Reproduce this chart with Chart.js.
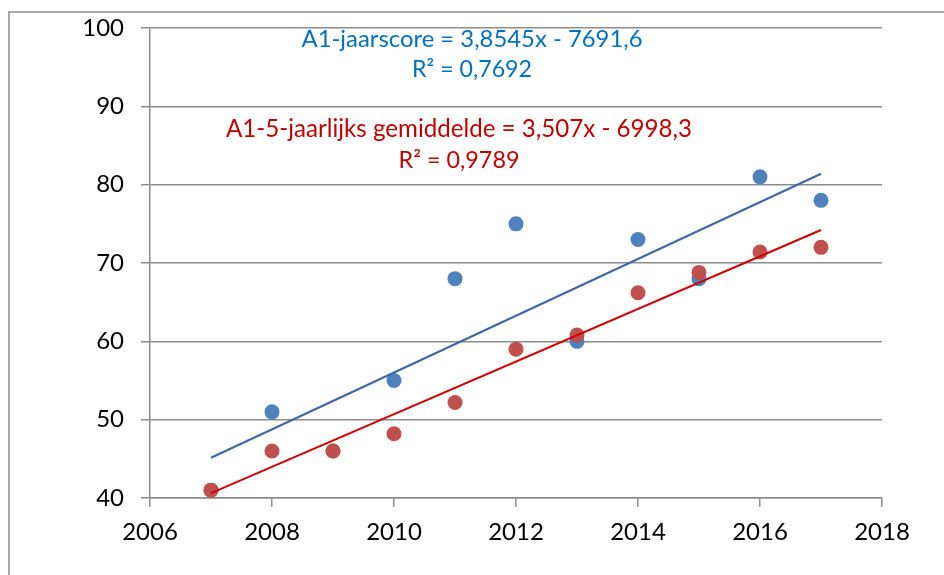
<!DOCTYPE html>
<html>
<head>
<meta charset="utf-8">
<script src="https://cdn.jsdelivr.net/npm/chart.js@4.4.1/dist/chart.umd.min.js"></script>
<style>
html,body{margin:0;padding:0;background:#fff;}
#wrap{width:944px;height:575px;position:relative;}
</style>
</head>
<body>
<div id="wrap"><canvas id="c" width="944" height="575"></canvas></div>
<script>
// ---- data ----
const years = [2007, 2008, 2009, 2010, 2011, 2012, 2013, 2014, 2015, 2016, 2017];
const jaarscore = [41, 51, 46, 55, 68, 75, 60, 73, 68, 81, 78];
const vijfjaarGemiddelde = [41, 46, 46, 48.2, 52.2, 59, 60.8, 66.2, 68.8, 71.4, 72];
const xTicks = [2006, 2008, 2010, 2012, 2014, 2016, 2018];
const yTicks = [40, 50, 60, 70, 80, 90, 100];
const blueLabel = ["A1-jaarscore = 3,8545x - 7691,6", "R² = 0,7692"];
const redLabel = ["A1-5-jaarlijks gemiddelde = 3,507x - 6998,3", "R² = 0,9789"];

function pts(xs, ys){ return xs.map((x,i)=>({x:x, y:ys[i]})); }
function trend(xs, ys){
  const n = xs.length;
  const mx = xs.reduce((a,b)=>a+b,0)/n, my = ys.reduce((a,b)=>a+b,0)/n;
  let sxy=0, sxx=0;
  for(let i=0;i<n;i++){ sxy += (xs[i]-mx)*(ys[i]-my); sxx += (xs[i]-mx)*(xs[i]-mx); }
  const b = sxy/sxx, a = my - b*mx;
  const x0 = xs[0], x1 = xs[n-1];
  return [{x:x0, y:a+b*x0}, {x:x1, y:a+b*x1}];
}

const FONT = "Lato, 'Open Sans', sans-serif";
const GRID = '#8c8c8c';

const framePlugin = {
  id: 'frame',
  beforeDraw(chart){
    const ctx = chart.ctx;
    ctx.save();
    ctx.fillStyle = '#fff';
    ctx.fillRect(0,0,chart.width,chart.height);
    ctx.strokeStyle = '#8c8c8c';
    ctx.lineWidth = 1.5;
    ctx.strokeRect(9, 12, 1000, 700);
    ctx.restore();
  }
};

function drawLines(ctx, lines, color, cx, cys, widths){
  ctx.fillStyle = color;
  ctx.textAlign = 'center';
  ctx.textBaseline = 'middle';
  lines.forEach((t,i)=>{
    ctx.font = '20px ' + FONT;
    const w = ctx.measureText(t).width;
    const size = 20 * widths[i] / w;
    ctx.font = size.toFixed(2) + 'px ' + FONT;
    ctx.fillText(t, cx[i], cys[i]);
  });
}

const labelPlugin = {
  id: 'labels',
  afterDatasetsDraw(chart){
    const ctx = chart.ctx;
    ctx.save();
    drawLines(ctx, blueLabel, '#0070C0', [472, 472], [39, 70], [341, 120]);
    drawLines(ctx, redLabel, '#C00000', [459, 459], [129, 160], [466, 121]);
    ctx.restore();
  }
};

new Chart(document.getElementById('c'), {
  type: 'scatter',
  data: {
    datasets: [
      { type:'line', data: trend(years, vijfjaarGemiddelde), borderColor:'#D00000', borderWidth:2, pointRadius:0, fill:false, tension:0 },
      { type:'line', data: trend(years, jaarscore), borderColor:'#3F67A3', borderWidth:2.2, pointRadius:0, fill:false, tension:0 },
      { data: pts(years, vijfjaarGemiddelde), backgroundColor:'#C0504D', borderColor:'#C0504D', pointRadius:7.5, borderWidth:0 },
      { data: pts(years, jaarscore), backgroundColor:'#4F81BD', borderColor:'#4F81BD', pointRadius:7.5, borderWidth:0 }
    ]
  },
  options: {
    responsive: false,
    animation: false,
    devicePixelRatio: 1,
    layout: { padding: { top: 28, right: 62, left: 0, bottom: 0 } },
    plugins: { legend:{display:false}, tooltip:{enabled:false}, title:{display:false} },
    scales: {
      x: {
        type: 'linear', min: 2006, max: 2018,
        afterBuildTicks(s){ s.ticks = xTicks.map(v=>({value:v})); },
        afterFit(s){ s.height = 77; s.paddingLeft = 0; s.paddingRight = 0; },
        ticks: { color:'#000', font:{family:FONT, size:24}, padding: 11, callback: v => String(v), maxRotation:0 },
        grid: { drawOnChartArea:false, drawTicks:true, tickLength:9, color:GRID, lineWidth:1.5 },
        border: { color:GRID, width:1.5 }
      },
      y: {
        type: 'linear', min: 40, max: 100,
        afterBuildTicks(s){ s.ticks = yTicks.map(v=>({value:v})); },
        afterFit(s){ s.width = 150; s.paddingTop = 0; s.paddingBottom = 0; },
        ticks: { color:'#000', font:{family:FONT, size:24}, padding: 17, callback: v => String(v) },
        grid: { drawOnChartArea:true, drawTicks:true, tickLength:9, color:GRID, lineWidth:1.5 },
        border: { color:GRID, width:1.5 }
      }
    }
  },
  plugins: [framePlugin, labelPlugin]
});
</script>
</body>
</html>
